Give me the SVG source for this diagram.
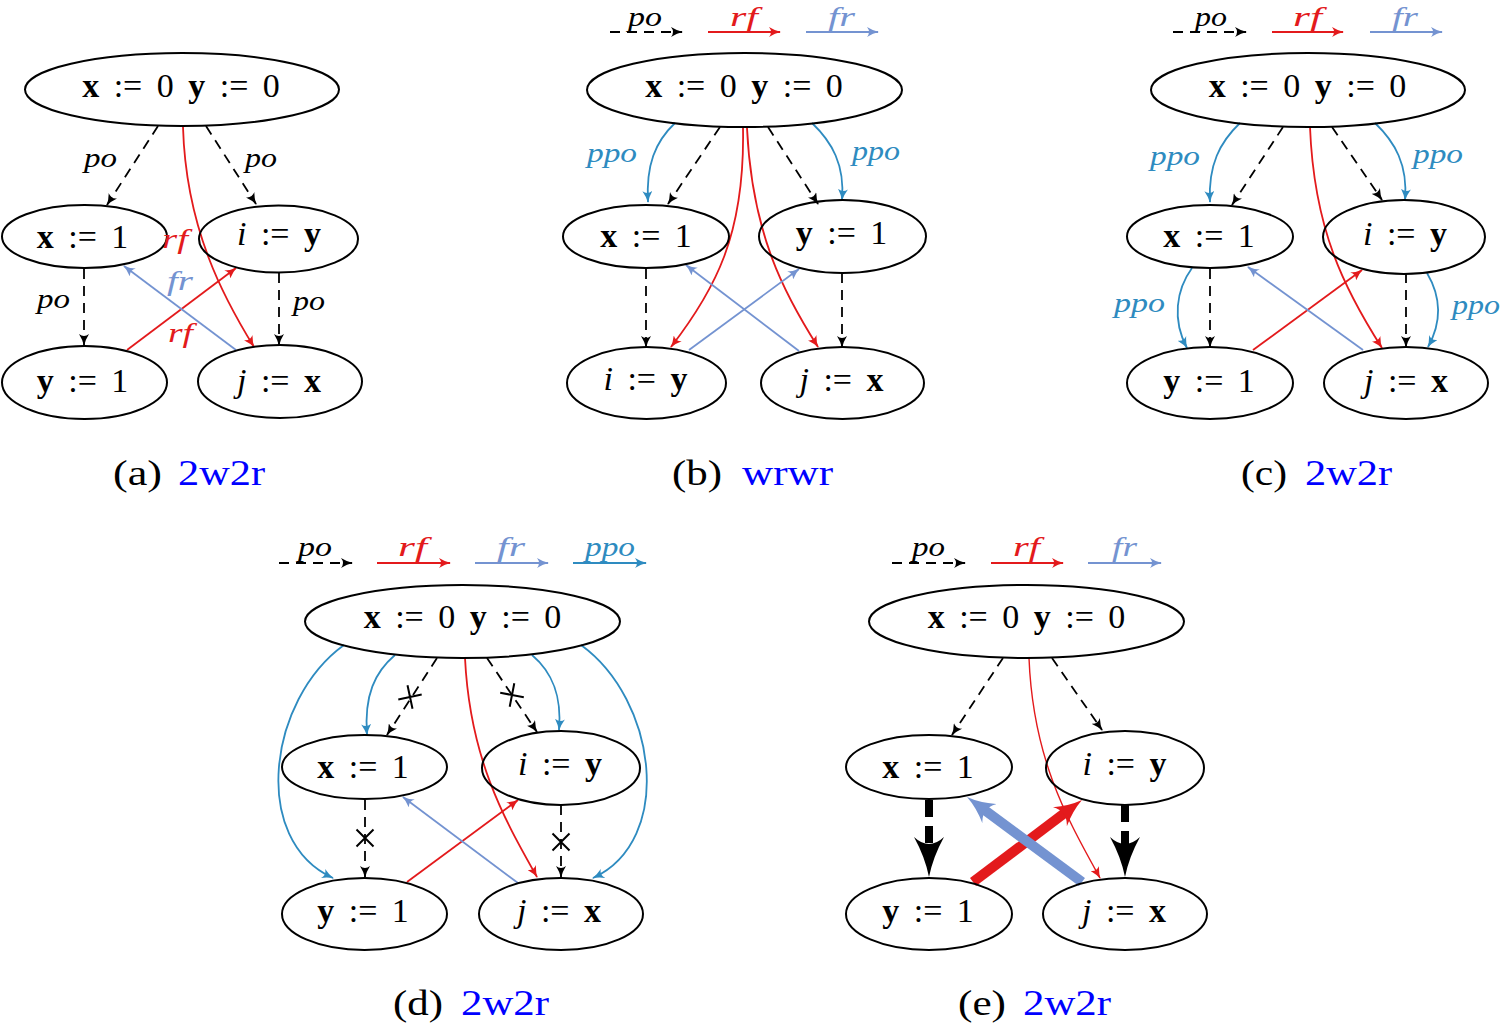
<svg xmlns="http://www.w3.org/2000/svg" width="1501" height="1026" viewBox="0 0 1501 1026">
<defs>
<style>
.n{fill:none;stroke:#000;stroke-width:2}
.t{font-family:"Liberation Serif",serif;font-size:34px;word-spacing:6px;fill:#000;text-anchor:middle}
.b{font-weight:bold}
.i{font-style:italic}
.l{font-family:"Liberation Serif",serif;font-size:28px;font-style:italic}
.cap{font-family:"Liberation Serif",serif;font-size:36px}
.po{fill:none;stroke:#000;stroke-width:1.8;stroke-dasharray:10 7;marker-end:url(#mk)}
.rf{fill:none;stroke:#e31a1c;stroke-width:1.8;marker-end:url(#mr)}
.fr{fill:none;stroke:#7493d1;stroke-width:1.8;marker-end:url(#mf)}
.pp{fill:none;stroke:#2e8bc0;stroke-width:1.8;marker-end:url(#mp)}
.x{fill:none;stroke:#000;stroke-width:2}
</style>
<marker id="mk" viewBox="0 -5 12 10" refX="11" refY="0" markerWidth="12" markerHeight="10" markerUnits="userSpaceOnUse" orient="auto"><path d="M0,-5 Q6,-1.2 12,0 Q6,1.2 0,5 Q4,0 0,-5 Z" fill="#000"/></marker>
<marker id="mr" viewBox="0 -5 12 10" refX="11" refY="0" markerWidth="12" markerHeight="10" markerUnits="userSpaceOnUse" orient="auto"><path d="M0,-5 Q6,-1.2 12,0 Q6,1.2 0,5 Q4,0 0,-5 Z" fill="#e31a1c"/></marker>
<marker id="mf" viewBox="0 -5 12 10" refX="11" refY="0" markerWidth="12" markerHeight="10" markerUnits="userSpaceOnUse" orient="auto"><path d="M0,-5 Q6,-1.2 12,0 Q6,1.2 0,5 Q4,0 0,-5 Z" fill="#7493d1"/></marker>
<marker id="mp" viewBox="0 -5 12 10" refX="11" refY="0" markerWidth="12" markerHeight="10" markerUnits="userSpaceOnUse" orient="auto"><path d="M0,-5 Q6,-1.2 12,0 Q6,1.2 0,5 Q4,0 0,-5 Z" fill="#2e8bc0"/></marker>
<marker id="mkB" viewBox="0 -15 40 30" refX="15" refY="0" markerWidth="40" markerHeight="30" markerUnits="userSpaceOnUse" orient="auto"><path d="M0,-15 Q20,-4 40,0 Q20,4 0,15 Q14,0 0,-15 Z" fill="#000"/></marker>
<marker id="mrB" viewBox="0 -12 28 24" refX="10" refY="0" markerWidth="28" markerHeight="24" markerUnits="userSpaceOnUse" orient="auto"><path d="M0,-12 Q14,-3 28,0 Q14,3 0,12 Q10,0 0,-12 Z" fill="#e31a1c"/></marker>
<marker id="mfB" viewBox="0 -12 28 24" refX="10" refY="0" markerWidth="28" markerHeight="24" markerUnits="userSpaceOnUse" orient="auto"><path d="M0,-12 Q14,-3 28,0 Q14,3 0,12 Q10,0 0,-12 Z" fill="#7493d1"/></marker>
</defs>
<rect width="1501" height="1026" fill="#fff"/>

<g id="connectors">
<!-- (a) -->
<path class="po" d="M158,126 L107,205"/>
<path class="po" d="M206,126 L256,204"/>
<path class="rf" d="M183,127 C186,230 225,300 254,347"/>
<path class="po" d="M84,269 L84,345"/>
<path class="po" d="M279,273 L279,345"/>
<path class="rf" d="M127,350 L236,268"/>
<path class="fr" d="M236,350 L124,266"/>
<!-- (b) -->
<path class="pp" d="M675,123 C655,142 646,165 648,202"/>
<path class="po" d="M720,127 L668,204"/>
<path class="rf" d="M743,128 C745,235 715,290 671,347"/>
<path class="rf" d="M747,128 C752,235 785,295 818,347"/>
<path class="po" d="M768,127 L818,204"/>
<path class="pp" d="M812,123 C832,142 845,165 842,200"/>
<path class="po" d="M646,269 L646,347"/>
<path class="po" d="M842,273 L842,347"/>
<path class="fr" d="M799,351 L686,265"/>
<path class="fr" d="M689,350 L799,269"/>
<!-- (c) -->
<path class="pp" d="M1240,123 C1220,142 1208,165 1210,202"/>
<path class="po" d="M1283,127 L1232,205"/>
<path class="rf" d="M1310,127 C1314,230 1345,290 1382,348"/>
<path class="po" d="M1332,127 L1382,200"/>
<path class="pp" d="M1375,123 C1395,142 1408,165 1405,200"/>
<path class="pp" d="M1192,268 C1176,290 1172,320 1187,348"/>
<path class="po" d="M1210,269 L1210,347"/>
<path class="rf" d="M1253,350 L1362,270"/>
<path class="fr" d="M1363,350 L1248,267"/>
<path class="po" d="M1406,273 L1406,347"/>
<path class="pp" d="M1427,273 C1440,295 1443,320 1428,347"/>
<!-- (d) -->
<path class="pp" d="M344,645 C268,700 250,840 333,878"/>
<path class="pp" d="M395,655 C375,672 364,695 367,735"/>
<path class="po" d="M437,658 L387,735"/>
<path class="x" d="M407.5,685.3 L412.5,708.7 M398.3,699.5 L421.7,694.5"/>
<path class="rf" d="M465,658 C470,760 505,820 537,877"/>
<path class="po" d="M487,658 L537,732"/>
<path class="x" d="M500.2,692.7 L523.8,697.3 M514.3,683.2 L509.7,706.8"/>
<path class="pp" d="M532,655 C552,672 562,695 559,730"/>
<path class="pp" d="M581,645 C657,700 675,840 593,878"/>
<path class="po" d="M365,800 L365,877"/>
<path class="x" d="M356.5,829.5 L373.5,846.5 M373.5,829.5 L356.5,846.5"/>
<path class="po" d="M561,805 L561,877"/>
<path class="x" d="M552.5,833.5 L569.5,850.5 M569.5,833.5 L552.5,850.5"/>
<path class="rf" d="M407,882 L518,800"/>
<path class="fr" d="M518,883 L403,797"/>
<!-- (e) -->
<path class="po" d="M1003,658 L952,735"/>
<path class="rf" style="stroke-width:1.4" d="M1029,658 C1033,760 1068,820 1100,878"/>
<path class="po" d="M1052,658 L1102,730"/>
<path d="M929,800 L929,852" fill="none" stroke="#000" stroke-width="8" stroke-dasharray="17 9" marker-end="url(#mkB)"/>
<path d="M1125,805 L1125,852" fill="none" stroke="#000" stroke-width="8" stroke-dasharray="17 9" marker-end="url(#mkB)"/>
<path d="M973,882 L1067.6,810.8" fill="none" stroke="#e31a1c" stroke-width="10" marker-end="url(#mrB)"/>
<path d="M1082,882 L981.5,807.7" fill="none" stroke="#7493d1" stroke-width="10" marker-end="url(#mfB)"/>
</g>

<!-- (a) nodes -->
<g id="a-init"><ellipse class="n" cx="182" cy="89.5" rx="157" ry="36.5"/><text class="t" x="181" y="97"><tspan class="b">x</tspan> := 0 <tspan class="b">y</tspan> := 0</text></g>
<g id="a-x1"><ellipse class="n" cx="84.5" cy="236.5" rx="82.5" ry="31.5"/><text class="t" x="82.5" y="248"><tspan class="b">x</tspan> := 1</text></g>
<g id="a-iy"><ellipse class="n" cx="278.5" cy="239" rx="79.5" ry="33.5"/><text class="t" x="279" y="245"><tspan class="i">i</tspan> := <tspan class="b">y</tspan></text></g>
<g id="a-y1"><ellipse class="n" cx="84.5" cy="382.5" rx="82.5" ry="36.5"/><text class="t" x="82.5" y="392"><tspan class="b">y</tspan> := 1</text></g>
<g id="a-jx"><ellipse class="n" cx="280" cy="381.5" rx="82" ry="36.5"/><text class="t" x="279" y="392"><tspan class="i">j</tspan> := <tspan class="b">x</tspan></text></g>

<!-- (b) nodes -->
<g id="b-init"><ellipse class="n" cx="744.5" cy="90" rx="157.5" ry="37"/><text class="t" x="744" y="97"><tspan class="b">x</tspan> := 0 <tspan class="b">y</tspan> := 0</text></g>
<g id="b-x1"><ellipse class="n" cx="646" cy="236.5" rx="83" ry="31.5"/><text class="t" x="646" y="247"><tspan class="b">x</tspan> := 1</text></g>
<g id="b-y1"><ellipse class="n" cx="842.5" cy="236.5" rx="83.5" ry="36.5"/><text class="t" x="841.5" y="244"><tspan class="b">y</tspan> := 1</text></g>
<g id="b-iy"><ellipse class="n" cx="646.5" cy="383" rx="79.5" ry="36"/><text class="t" x="645.5" y="390"><tspan class="i">i</tspan> := <tspan class="b">y</tspan></text></g>
<g id="b-jx"><ellipse class="n" cx="842.5" cy="383" rx="81.5" ry="36"/><text class="t" x="841.5" y="391"><tspan class="i">j</tspan> := <tspan class="b">x</tspan></text></g>

<!-- (c) nodes -->
<g id="c-init"><ellipse class="n" cx="1308" cy="90" rx="157" ry="37"/><text class="t" x="1307.5" y="97"><tspan class="b">x</tspan> := 0 <tspan class="b">y</tspan> := 0</text></g>
<g id="c-x1"><ellipse class="n" cx="1210" cy="236.5" rx="83" ry="31.5"/><text class="t" x="1209" y="247"><tspan class="b">x</tspan> := 1</text></g>
<g id="c-iy"><ellipse class="n" cx="1404" cy="237" rx="81" ry="37"/><text class="t" x="1405" y="245"><tspan class="i">i</tspan> := <tspan class="b">y</tspan></text></g>
<g id="c-y1"><ellipse class="n" cx="1210" cy="383" rx="83" ry="36"/><text class="t" x="1209" y="392"><tspan class="b">y</tspan> := 1</text></g>
<g id="c-jx"><ellipse class="n" cx="1406" cy="383" rx="82" ry="36"/><text class="t" x="1406" y="392"><tspan class="i">j</tspan> := <tspan class="b">x</tspan></text></g>

<!-- (d) nodes -->
<g id="d-init"><ellipse class="n" cx="462.5" cy="621.5" rx="157.5" ry="36.5"/><text class="t" x="462.5" y="628"><tspan class="b">x</tspan> := 0 <tspan class="b">y</tspan> := 0</text></g>
<g id="d-x1"><ellipse class="n" cx="364.5" cy="767" rx="82.5" ry="32"/><text class="t" x="363" y="778"><tspan class="b">x</tspan> := 1</text></g>
<g id="d-iy"><ellipse class="n" cx="561" cy="768" rx="79" ry="37"/><text class="t" x="560" y="775"><tspan class="i">i</tspan> := <tspan class="b">y</tspan></text></g>
<g id="d-y1"><ellipse class="n" cx="364.5" cy="914" rx="82.5" ry="36"/><text class="t" x="363" y="922"><tspan class="b">y</tspan> := 1</text></g>
<g id="d-jx"><ellipse class="n" cx="561" cy="914" rx="82" ry="36"/><text class="t" x="559" y="922"><tspan class="i">j</tspan> := <tspan class="b">x</tspan></text></g>

<!-- (e) nodes -->
<g id="e-init"><ellipse class="n" cx="1026.5" cy="621.5" rx="157.5" ry="36.5"/><text class="t" x="1026.5" y="628"><tspan class="b">x</tspan> := 0 <tspan class="b">y</tspan> := 0</text></g>
<g id="e-x1"><ellipse class="n" cx="929" cy="767" rx="83" ry="32"/><text class="t" x="928" y="778"><tspan class="b">x</tspan> := 1</text></g>
<g id="e-iy"><ellipse class="n" cx="1125" cy="768" rx="79" ry="37"/><text class="t" x="1124.5" y="775"><tspan class="i">i</tspan> := <tspan class="b">y</tspan></text></g>
<g id="e-y1"><ellipse class="n" cx="929" cy="914" rx="83" ry="36"/><text class="t" x="928" y="922"><tspan class="b">y</tspan> := 1</text></g>
<g id="e-jx"><ellipse class="n" cx="1125" cy="914" rx="82" ry="36"/><text class="t" x="1124" y="922"><tspan class="i">j</tspan> := <tspan class="b">x</tspan></text></g>

<g id="edge-labels">
<text class="l" x="84" y="167" textLength="33" lengthAdjust="spacingAndGlyphs">po</text>
<text class="l" x="245" y="167" textLength="32" lengthAdjust="spacingAndGlyphs">po</text>
<text class="l" x="37" y="308" textLength="33" lengthAdjust="spacingAndGlyphs">po</text>
<text class="l" x="293" y="310" textLength="32" lengthAdjust="spacingAndGlyphs">po</text>
<text class="l" x="162" y="248" textLength="26" lengthAdjust="spacingAndGlyphs" fill="#e31a1c">rf</text>
<text class="l" x="167" y="290" textLength="26" lengthAdjust="spacingAndGlyphs" fill="#7493d1">fr</text>
<text class="l" x="168" y="342" textLength="25" lengthAdjust="spacingAndGlyphs" fill="#e31a1c">rf</text>
<text class="l" x="587" y="162" textLength="50" lengthAdjust="spacingAndGlyphs" fill="#2e8bc0">ppo</text>
<text class="l" x="852" y="160" textLength="48" lengthAdjust="spacingAndGlyphs" fill="#2e8bc0">ppo</text>
<text class="l" x="1150" y="165" textLength="50" lengthAdjust="spacingAndGlyphs" fill="#2e8bc0">ppo</text>
<text class="l" x="1413" y="163" textLength="50" lengthAdjust="spacingAndGlyphs" fill="#2e8bc0">ppo</text>
<text class="l" x="1114" y="312" textLength="51" lengthAdjust="spacingAndGlyphs" fill="#2e8bc0">ppo</text>
<text class="l" x="1452" y="314" textLength="48" lengthAdjust="spacingAndGlyphs" fill="#2e8bc0">ppo</text>
</g>

<g id="legends">
<path class="po" d="M610,32 L682,32"/><text class="l" x="628" y="26" textLength="34" lengthAdjust="spacingAndGlyphs">po</text>
<path class="rf" d="M708,32 L780,32"/><text class="l" x="730" y="26" textLength="28" lengthAdjust="spacingAndGlyphs" fill="#e31a1c">rf</text>
<path class="fr" d="M806,32 L878,32"/><text class="l" x="828" y="26" textLength="27" lengthAdjust="spacingAndGlyphs" fill="#7493d1">fr</text>
<path class="po" d="M1173,32 L1246,32"/><text class="l" x="1195" y="26" textLength="32" lengthAdjust="spacingAndGlyphs">po</text>
<path class="rf" d="M1272,32 L1343,32"/><text class="l" x="1293" y="26" textLength="29" lengthAdjust="spacingAndGlyphs" fill="#e31a1c">rf</text>
<path class="fr" d="M1370,32 L1442,32"/><text class="l" x="1392" y="26" textLength="26" lengthAdjust="spacingAndGlyphs" fill="#7493d1">fr</text>
<path class="po" d="M279,563 L352,563"/><text class="l" x="298" y="556" textLength="34" lengthAdjust="spacingAndGlyphs">po</text>
<path class="rf" d="M377,563 L450,563"/><text class="l" x="398" y="556" textLength="29" lengthAdjust="spacingAndGlyphs" fill="#e31a1c">rf</text>
<path class="fr" d="M475,563 L548,563"/><text class="l" x="497" y="556" textLength="28" lengthAdjust="spacingAndGlyphs" fill="#7493d1">fr</text>
<path class="pp" d="M573,563 L646,563"/><text class="l" x="585" y="556" textLength="50" lengthAdjust="spacingAndGlyphs" fill="#2e8bc0">ppo</text>
<path class="po" d="M892,563 L965,563"/><text class="l" x="912" y="556" textLength="33" lengthAdjust="spacingAndGlyphs">po</text>
<path class="rf" d="M991,563 L1063,563"/><text class="l" x="1013" y="556" textLength="27" lengthAdjust="spacingAndGlyphs" fill="#e31a1c">rf</text>
<path class="fr" d="M1088,563 L1161,563"/><text class="l" x="1112" y="556" textLength="25" lengthAdjust="spacingAndGlyphs" fill="#7493d1">fr</text>
</g>

<g id="captions">
<text class="cap" x="113" y="485" textLength="49" lengthAdjust="spacingAndGlyphs">(a)</text><text class="cap" x="178" y="485" textLength="87" lengthAdjust="spacingAndGlyphs" fill="#0000ff">2w2r</text>
<text class="cap" x="672" y="485" textLength="50" lengthAdjust="spacingAndGlyphs">(b)</text><text class="cap" x="742" y="485" textLength="91" lengthAdjust="spacingAndGlyphs" fill="#0000ff">wrwr</text>
<text class="cap" x="1241" y="485" textLength="46" lengthAdjust="spacingAndGlyphs">(c)</text><text class="cap" x="1305" y="485" textLength="87" lengthAdjust="spacingAndGlyphs" fill="#0000ff">2w2r</text>
<text class="cap" x="393" y="1015" textLength="50" lengthAdjust="spacingAndGlyphs">(d)</text><text class="cap" x="461" y="1015" textLength="88" lengthAdjust="spacingAndGlyphs" fill="#0000ff">2w2r</text>
<text class="cap" x="958" y="1015" textLength="48" lengthAdjust="spacingAndGlyphs">(e)</text><text class="cap" x="1023" y="1015" textLength="88" lengthAdjust="spacingAndGlyphs" fill="#0000ff">2w2r</text>
</g>
</svg>
